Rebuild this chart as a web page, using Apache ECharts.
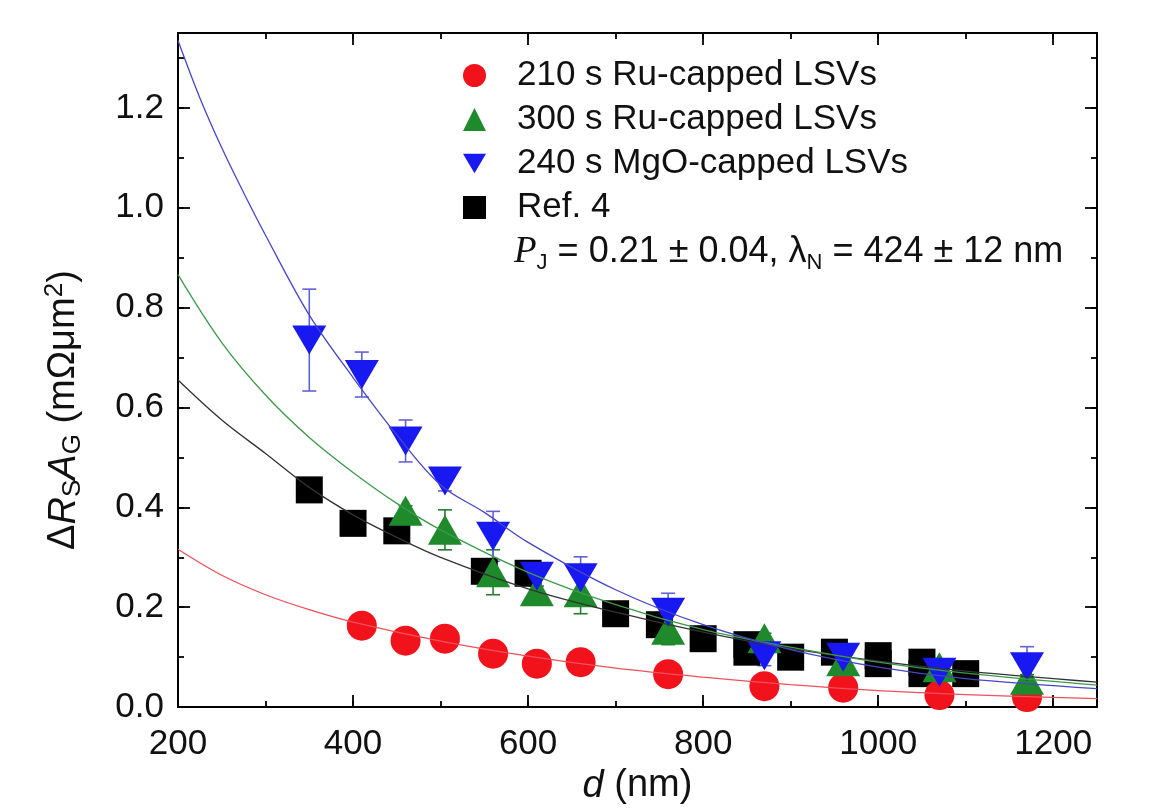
<!DOCTYPE html>
<html><head><meta charset="utf-8">
<script src="https://cdn.jsdelivr.net/npm/echarts@6/dist/echarts.min.js"></script>
<style>html,body{margin:0;padding:0;background:#fff}#c{width:1170px;height:810px}</style>
</head><body><div id="c"></div>
<script>
// ---- data ----
const legendNames = ['210 s Ru-capped LSVs', '300 s Ru-capped LSVs', '240 s MgO-capped LSVs', 'Ref. 4'];
const red210 = [[410,0.163],[460,0.133],[505,0.137],[560,0.107],[610,0.087],[660,0.09],[760,0.066],[870,0.042],[960,0.039],[1070,0.024],[1170,0.02]];
const green300 = [[460,0.393],[505,0.355],[560,0.27],[610,0.232],[660,0.23],[760,0.155],[870,0.138],[960,0.092],[1070,0.08],[1170,0.055]];
const green300Err = [0.01,0.04,0.045,0.01,0.043,0.03,0.01,0.01,0.01,0.01];
const blue240 = [[350,0.735],[410,0.666],[460,0.533],[505,0.453],[560,0.342],[610,0.262],[660,0.259],[760,0.19],[870,0.103],[960,0.10],[1070,0.07],[1170,0.081]];
const blue240Err = [0.102,0.045,0.042,0.02,0.05,0.02,0.042,0.038,0.02,0.02,0.02,0.04];
const ref4 = [[350,0.435],[400,0.368],[450,0.353],[550,0.272],[600,0.268],[700,0.187],[750,0.165],[800,0.137],[850,0.125],[850,0.11],[900,0.10],[950,0.11],[1000,0.103],[1000,0.087],[1050,0.09],[1050,0.067],[1100,0.067]];
const fitRed = [[200,0.316],[250,0.264],[300,0.225],[350,0.195],[400,0.17],[500,0.132],[600,0.102],[700,0.078],[800,0.06],[900,0.045],[1000,0.033],[1100,0.025],[1250,0.017]];
const fitGreen = [[200,0.866],[250,0.73],[300,0.625],[350,0.54],[400,0.47],[450,0.408],[500,0.355],[600,0.27],[700,0.205],[800,0.155],[900,0.12],[1000,0.09],[1100,0.068],[1250,0.044]];
const fitBlack = [[200,0.655],[250,0.575],[300,0.508],[350,0.44],[400,0.385],[450,0.34],[500,0.30],[600,0.237],[700,0.19],[800,0.15],[900,0.117],[1000,0.092],[1100,0.072],[1250,0.05]];
const fitBlue = [[200,1.335],[225,1.22],[250,1.12],[275,1.03],[300,0.945],[350,0.785],[400,0.66],[450,0.545],[500,0.445],[550,0.39],[600,0.33],[700,0.235],[800,0.165],[900,0.115],[1000,0.08],[1100,0.057],[1250,0.037]];
const X_MIN = 200, X_MAX = 1250, X_MINOR = 100, X_MAJOR = 200;
const Y_MIN = 0, Y_MAX = 1.35, Y_MINOR = 0.1, Y_MAJOR = 0.2;

// ---- chart ----
const FONT = '"Liberation Sans", Arial, sans-serif';
const DOWN_TRI = 'path://M0,0L20,0L10,17Z';
const chart = echarts.init(document.getElementById('c'), null, {renderer: 'canvas'});

function isMult(v, s) { const k = v / s; return Math.abs(k - Math.round(k)) < 1e-6; }

function xAx(pos, interval, len, labels, line) {
  const a = {
    type: 'value', position: pos, min: X_MIN, max: X_MAX, interval: interval,
    axisLine: {show: line, onZero: false, lineStyle: {color: '#000', width: 2}},
    axisTick: {show: true, inside: true, length: len, lineStyle: {color: '#000', width: 1.8}},
    axisLabel: {show: false}, splitLine: {show: false}
  };
  if (labels) {
    a.axisLabel = {show: true, margin: 20, color: '#111', fontSize: 35, fontFamily: FONT,
      showMaxLabel: false, formatter: v => isMult(v, X_MAJOR) ? String(Math.round(v)) : ''};
    a.name = '{i|d} (nm)';
    a.nameLocation = 'middle';
    a.nameGap = 58;
    a.nameTextStyle = {color: '#111', fontSize: 38, fontFamily: FONT,
      rich: {i: {fontStyle: 'italic', fontSize: 38, fontFamily: FONT, color: '#111'}}};
  }
  return a;
}
function yAx(pos, interval, len, labels, line) {
  const a = {
    type: 'value', position: pos, min: Y_MIN, max: Y_MAX, interval: interval,
    axisLine: {show: line, onZero: false, lineStyle: {color: '#000', width: 2}},
    axisTick: {show: true, inside: true, length: len, lineStyle: {color: '#000', width: 1.8}},
    axisLabel: {show: false}, splitLine: {show: false}
  };
  if (labels) {
    a.axisLabel = {show: true, margin: 14, color: '#111', fontSize: 35, fontFamily: FONT,
      showMaxLabel: false, formatter: v => isMult(v, Y_MAJOR) ? v.toFixed(1) : ''};
    a.name = '{n|Δ}{i|R}{sub|S}{i|A}{sub|G}{n| (mΩμm}{sup|2}{n|)}';
    a.nameLocation = 'middle';
    a.nameGap = 92;
    a.nameRotate = 90;
    a.nameTextStyle = {color: '#111', fontSize: 38, fontFamily: FONT, padding: [0, 80, 0, 0],
      rich: {
        n: {fontSize: 38, fontFamily: FONT, color: '#111', lineHeight: 44},
        i: {fontSize: 38, fontFamily: FONT, color: '#111', fontStyle: 'italic', lineHeight: 44},
        sub: {fontSize: 26, fontFamily: FONT, color: '#111', lineHeight: 22, verticalAlign: 'bottom'},
        sup: {fontSize: 26, fontFamily: FONT, color: '#111', lineHeight: 22, verticalAlign: 'top'}
      }};
  }
  return a;
}

function errSeries(data, errs, color, z) {
  return {
    type: 'custom', xAxisIndex: 0, yAxisIndex: 0, z: z, silent: true,
    renderItem: function (params, api) {
      const x = api.value(0), y = api.value(1), e = api.value(2);
      const t = api.coord([x, y + e]), b = api.coord([x, y - e]);
      const hw = 7, st = {stroke: color, lineWidth: 1.6};
      return {type: 'group', children: [
        {type: 'line', shape: {x1: t[0], y1: t[1], x2: b[0], y2: b[1]}, style: st},
        {type: 'line', shape: {x1: t[0] - hw, y1: t[1], x2: t[0] + hw, y2: t[1]}, style: st},
        {type: 'line', shape: {x1: b[0] - hw, y1: b[1], x2: b[0] + hw, y2: b[1]}, style: st}
      ]};
    },
    data: data.map((p, i) => [p[0], p[1], errs[i]])
  };
}
function scat(name, data, symbol, size, color, z) {
  return {type: 'scatter', name: name, data: data, symbol: symbol, symbolSize: size,
    itemStyle: {color: color, opacity: 1}, z: z, silent: true,
    xAxisIndex: 0, yAxisIndex: 0};
}
function fit(data, color) {
  return {type: 'line', data: data, smooth: 0.35, symbol: 'none', showSymbol: false,
    lineStyle: {color: color, width: 1.3}, z: 6, silent: true, xAxisIndex: 0, yAxisIndex: 0};
}

const RED = '#f2121c', GREEN = '#1e8a2c', BLUE = '#1818f0', BLACK = '#000000';

chart.setOption({
  animation: false,
  backgroundColor: '#fff',
  grid: {left: 178, right: 73, top: 33, bottom: 100, containLabel: false},
  xAxis: [xAx('bottom', X_MINOR, 6, true, true), xAx('bottom', X_MAJOR, 12, false, false),
          xAx('top', X_MINOR, 6, false, true), xAx('top', X_MAJOR, 12, false, false)],
  yAxis: [yAx('left', Y_MINOR, 6, true, true), yAx('left', Y_MAJOR, 12, false, false),
          yAx('right', Y_MINOR, 6, false, true), yAx('right', Y_MAJOR, 12, false, false)],
  legend: {
    data: [
      {name: legendNames[0], icon: 'circle'},
      {name: legendNames[1], icon: 'triangle'},
      {name: legendNames[2], icon: DOWN_TRI},
      {name: legendNames[3], icon: 'rect'}
    ],
    orient: 'vertical', left: 458, top: 53, itemWidth: 23, itemHeight: 23, itemGap: 9,
    selectedMode: false,
    textStyle: {fontSize: 35, fontFamily: FONT, color: '#111', lineHeight: 35, padding: [0, 0, 0, 26]}
  },
  graphic: [{
    type: 'text', left: 514, top: 234, silent: true,
    style: {
      text: '{p|P}{sub|J}{n| = 0.21 ± 0.04, λ}{sub|N}{n| = 424 ± 12 nm}',
      fill: '#111', font: '35px ' + FONT,
      rich: {
        p: {fontSize: 37, fontFamily: '"Liberation Serif", "Times New Roman", serif', fontStyle: 'italic', fill: '#111', lineHeight: 42},
        n: {fontSize: 36, fontFamily: FONT, fill: '#111', lineHeight: 42},
        sub: {fontSize: 22, fontFamily: FONT, fill: '#111', lineHeight: 20, verticalAlign: 'bottom'}
      }
    }
  }],
  series: [
    errSeries(green300, green300Err, '#2a7a34', 1),
    errSeries(blue240, blue240Err, '#6262d8', 1),
    scat(legendNames[3], ref4, 'rect', 27, BLACK, 2),
    scat(legendNames[0], red210, 'circle', 30, RED, 3),
    scat(legendNames[1], green300, 'triangle', [34, 30], GREEN, 4),
    scat(legendNames[2], blue240, DOWN_TRI, [34, 29], BLUE, 5),
    fit(fitRed, '#f0505a'),
    fit(fitBlack, '#333333'),
    fit(fitGreen, '#3c9a4a'),
    fit(fitBlue, '#4646c8')
  ]
});
</script>
</body></html>
